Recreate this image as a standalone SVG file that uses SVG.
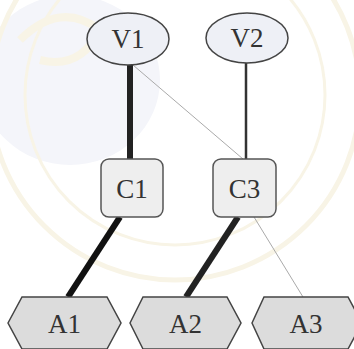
<svg xmlns="http://www.w3.org/2000/svg" width="354" height="349" viewBox="0 0 354 349">
  <style>
    .var { fill: #eef0f6; stroke: #444; stroke-width: 1.5; }
    .con { fill: #eeeeee; stroke: #555; stroke-width: 1.5; }
    .atm { fill: #dcdcdc; stroke: #444; stroke-width: 1.5; }
    .e { stroke-linecap: butt; fill: none; }
    .mark { fill: none; stroke: #f8f4e6; }
  </style>

  <!-- faint background seal -->
  <g id="seal">
    <rect width="354" height="349" fill="#ffffff"/>
    <ellipse cx="70" cy="80" rx="90" ry="85" fill="#f4f5fa"/>
    <circle cx="175" cy="95" r="185" class="mark" stroke-width="5"/>
    <circle cx="175" cy="95" r="150" class="mark" stroke-width="3"/>
    <path d="M20 40 Q60 0 100 30 Q80 70 40 60" class="mark" stroke-width="8"/>
  </g>

  <!-- connectors -->
  <g id="edges" class="e">
    <line x1="130" y1="65" x2="130" y2="159" stroke="#222" stroke-width="6"/>
    <line x1="133" y1="65" x2="243" y2="159" stroke="#aaa" stroke-width="1"/>
    <line x1="246" y1="63" x2="246" y2="159" stroke="#333" stroke-width="2.5"/>
    <line x1="120" y1="217" x2="68" y2="297" stroke="#111" stroke-width="6"/>
    <line x1="238" y1="217" x2="186" y2="297" stroke="#222" stroke-width="6"/>
    <line x1="254" y1="217" x2="303" y2="297" stroke="#aaa" stroke-width="1"/>
  </g>

  <g font-family="Liberation Serif" font-size="27" fill="#333" text-anchor="middle">
    <g id="V1"><ellipse class="var" cx="128" cy="39" rx="41" ry="26"/><text x="128" y="48">V1</text></g>
    <g id="V2"><ellipse class="var" cx="247" cy="38" rx="41" ry="25"/><text x="247" y="47">V2</text></g>

    <g id="C1"><rect class="con" x="101" y="159" width="62" height="58" rx="8"/><text x="132" y="198">C1</text></g>
    <g id="C3"><rect class="con" x="213" y="159" width="63" height="58" rx="8"/><text x="244.5" y="198">C3</text></g>

    <g id="A1"><polygon class="atm" points="8,323 22,297 107,297 121,323 107,349 22,349"/><text x="64.5" y="333">A1</text></g>
    <g id="A2"><polygon class="atm" points="130,323 143,297 227,297 241,323 227,349 143,349"/><text x="185.5" y="333">A2</text></g>
    <g id="A3"><polygon class="atm" points="252,323 264,297 348,297 362,323 348,349 264,349"/><text x="306" y="333">A3</text></g>
  </g>
</svg>
